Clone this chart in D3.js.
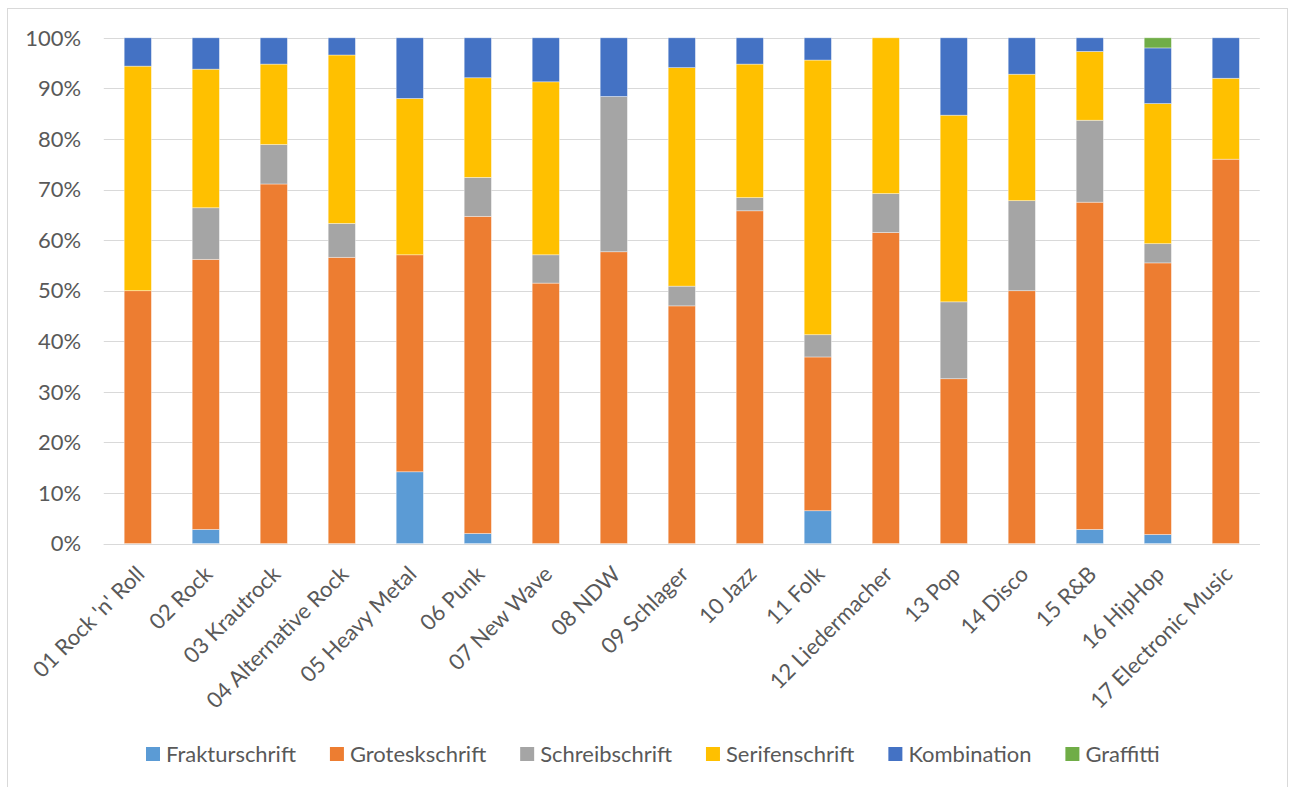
<!DOCTYPE html>
<html>
<head>
<meta charset="utf-8">
<script src="https://cdn.jsdelivr.net/npm/d3@7"></script>
<style>
  html, body { margin: 0; padding: 0; background: #fff; }
  svg { display: block; }
  text { font-family: Lato, "Open Sans", sans-serif; fill: #595959; }
</style>
</head>
<body>
<svg id="chart" width="1289" height="787"></svg>
<script>
// ---- data ----
const categories = ["01 Rock 'n' Roll", "02 Rock", "03 Krautrock", "04 Alternative Rock", "05 Heavy Metal",
  "06 Punk", "07 New Wave", "08 NDW", "09 Schlager", "10 Jazz", "11 Folk", "12 Liedermacher",
  "13 Pop", "14 Disco", "15 R&B", "16 HipHop", "17 Electronic Music"];
const seriesNames = ["Frakturschrift", "Groteskschrift", "Schreibschrift", "Serifenschrift", "Kombination", "Graffitti"];
const fraktur   = [0,   2.8, 0,   0,   14.2, 2.0,  0,    0,    0,    0,    6.5,  0,    0,    0,    2.8,  1.8,  0];
const grotesk   = [50,  53.4, 71.1, 56.6, 42.9, 62.7, 51.5, 57.7, 47.0, 65.8, 30.4, 61.5, 32.6, 50.0, 64.7, 53.7, 76.0];
const schreib   = [0,   10.2, 7.8, 6.7, 0,    7.7,  5.6,  30.7, 3.9,  2.6,  4.4,  7.7,  15.2, 17.8, 16.2, 3.8,  0];
const serifen   = [44.4, 27.4, 15.9, 33.3, 30.9, 19.7, 34.2, 0,   43.2, 26.4, 54.3, 30.8, 36.9, 25.0, 13.6, 27.7, 16.0];
const kombi     = [5.6, 6.2, 5.2, 3.4, 12.0, 7.9,  8.7,  11.6, 5.9,  5.2,  4.4,  0,    15.3, 7.2,  2.7,  11.0, 8.0];
const graffiti  = [0,   0,   0,   0,   0,    0,    0,    0,    0,    0,    0,    0,    0,    0,    0,    2.0,  0];
const yTicks = [0, 0.1, 0.2, 0.3, 0.4, 0.5, 0.6, 0.7, 0.8, 0.9, 1.0];
const colors = ["#5B9BD5", "#ED7D31", "#A5A5A5", "#FFC000", "#4472C4", "#70AD47"];

const seriesValues = [fraktur, grotesk, schreib, serifen, kombi, graffiti];
const rows = categories.map((c, i) => {
  const r = { cat: c };
  let total = 0;
  seriesNames.forEach((s, k) => { total += seriesValues[k][i]; });
  seriesNames.forEach((s, k) => { r[s] = seriesValues[k][i] / total; });
  return r;
});

// ---- layout ----
const svg = d3.select("#chart");
const W = 1289, H = 787;
const plot = { left: 103.8, right: 1259.8, top: 37.8, bottom: 543.6 };

// chart border
svg.append("rect").attr("x", 7.5).attr("y", 8.5).attr("width", 1280).attr("height", H)
  .attr("fill", "#fff").attr("stroke", "#d9d9d9").attr("stroke-width", 1);

// font size fit to reference metrics
const probe = svg.append("text").style("font-size", "100px").text("Frakturschrift");
const pw = probe.node().getComputedTextLength();
probe.remove();
const fs = 100 * 130 / pw;

const x = d3.scaleBand().domain(categories).range([plot.left, plot.right]).paddingInner(0.6).paddingOuter(0.3);
const y = d3.scaleLinear().domain([0, 1]).range([plot.bottom, plot.top]);

// gridlines
svg.append("g").selectAll("line").data(yTicks).join("line")
  .attr("x1", plot.left).attr("x2", plot.right)
  .attr("y1", d => Math.round(y(d)) + 0.5).attr("y2", d => Math.round(y(d)) + 0.5)
  .attr("stroke", "#d9d9d9").attr("stroke-width", 1.2);

// y axis labels
const yAxis = d3.axisLeft(y).tickValues(yTicks).tickFormat(d3.format(".0%")).tickSize(0).tickPadding(0);
const yg = svg.append("g").attr("transform", `translate(81,0)`).call(yAxis);
yg.select(".domain").remove();
yg.selectAll("text").style("font-size", fs + "px").attr("fill", "#595959")
  .style("font-family", "Lato, sans-serif").attr("dy", "0.33em");

// stacked bars
const stack = d3.stack().keys(seriesNames);
const stacked = stack(rows);
svg.append("g").selectAll("g").data(stacked).join("g")
  .attr("fill", (d, i) => colors[i])
  .selectAll("rect").data(d => d).join("rect")
  .attr("x", d => x(d.data.cat))
  .attr("width", x.bandwidth())
  .attr("y", d => y(d[1]))
  .attr("height", d => Math.max(0, y(d[0]) - y(d[1])))
  .attr("stroke", "#fff").attr("stroke-opacity", 0.5).attr("stroke-width", 0.75);

// x axis line
svg.append("line").attr("x1", plot.left).attr("x2", plot.right)
  .attr("y1", Math.round(plot.bottom) + 0.5).attr("y2", Math.round(plot.bottom) + 0.5)
  .attr("stroke", "#d9d9d9").attr("stroke-width", 1.2);

// x labels (rotated)
const xAxis = d3.axisBottom(x).tickSize(0).tickPadding(0);
const xg = svg.append("g").attr("transform", `translate(0,${plot.bottom})`).call(xAxis);
xg.select(".domain").remove();
xg.selectAll("text")
  .style("font-size", fs + "px").style("font-family", "Lato, sans-serif").attr("fill", "#595959")
  .attr("text-anchor", "end").attr("dy", null).attr("y", null)
  .attr("transform", "translate(8,32) rotate(-45)");

// legend
const legend = svg.append("g").attr("transform", "translate(146,0)");
let lx = 0;
seriesNames.forEach((s, i) => {
  const g = legend.append("g").attr("transform", `translate(${lx},0)`);
  g.append("rect").attr("x", 0).attr("y", 747).attr("width", 14).attr("height", 14).attr("fill", colors[i]);
  const t = g.append("text").attr("x", 20).attr("y", 754).attr("dy", "0.35em")
    .style("font-size", fs + "px").text(s);
  lx += 20 + t.node().getComputedTextLength() + 34;
});
</script>
</body>
</html>
